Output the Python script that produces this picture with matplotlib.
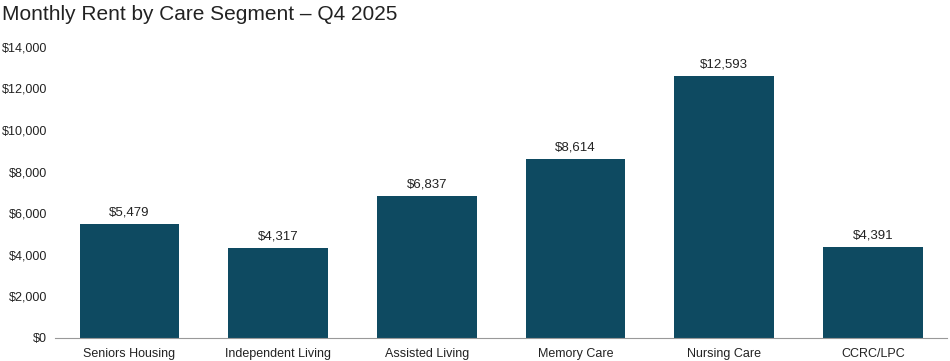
import matplotlib.pyplot as plt

segments = ['Seniors Housing', 'Independent Living', 'Assisted Living',
            'Memory Care', 'Nursing Care', 'CCRC/LPC']
rents = [5479, 4317, 6837, 8614, 12593, 4391]
y_ticks = [0, 2000, 4000, 6000, 8000, 10000, 12000, 14000]

plt.rcParams['font.family'] = ['Liberation Sans', 'DejaVu Sans']

fig = plt.figure(figsize=(9.5, 3.61), dpi=100)
ax = fig.add_axes([0.058, 0.064, 0.939, 0.806])

x = range(len(segments))
ax.bar(x, rents, width=0.67, color='#0e4a61')
for i, v in zip(x, rents):
    ax.text(i, v + 250, f'${v:,}', ha='center', va='bottom', fontsize=9.5, color='#222222')

ax.set_xlim(-0.5, len(segments) - 0.5)
ax.set_ylim(0, 14000)
ax.set_yticks(y_ticks)
ax.set_yticklabels([f'${t:,}' for t in y_ticks], fontsize=9, color='#222222')
ax.set_xticks(list(x))
ax.set_xticklabels(segments, fontsize=9, color='#222222')
ax.tick_params(axis='y', length=0, pad=6)
ax.tick_params(axis='x', length=0, pad=7)

for s in ['top', 'right', 'left']:
    ax.spines[s].set_visible(False)
ax.spines['bottom'].set_color('#999999')

fig.text(0.002, 0.96, 'Monthly Rent by Care Segment – Q4 2025', fontsize=15,
         ha='left', va='center', color='#222222')

fig.savefig('out.png', dpi=100)
